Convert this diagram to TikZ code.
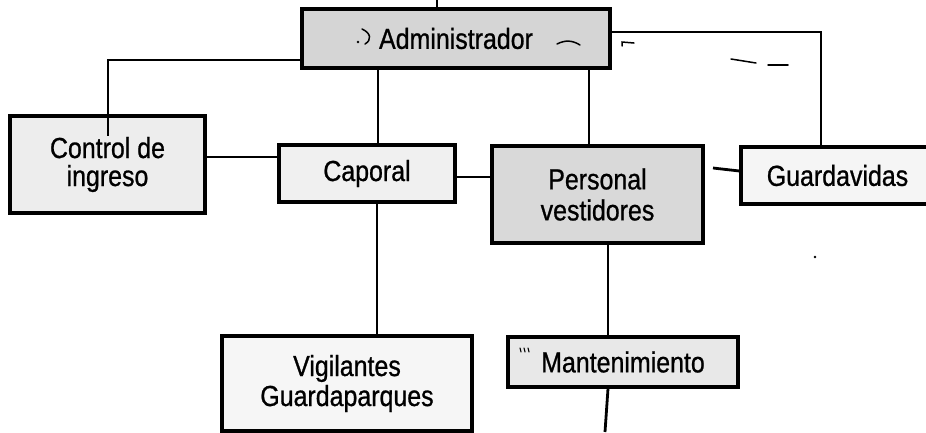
\documentclass[tikz,border=0pt]{standalone}
\usepackage{fontspec}
\setmainfont{Liberation Sans}[FakeStretch=0.86,FakeBold=0.8]
\begin{document}
\begin{tikzpicture}[x=1pt,y=-1pt,
  box/.style={draw=black, line width=3.3pt, rectangle, inner sep=0pt, align=center},
  conn/.style={line width=2.8pt},
  scrap/.style={line width=1.5pt, line cap=round}]
\clip (0,0) rectangle (926,432);
\fill[white] (0,0) rectangle (926,432);
% boxes
\node[box, fill=gray!33, minimum width=308pt, minimum height=59pt,
      font=\fontsize{29}{29}\selectfont] (admin) at (456,38.5) {Administrador};
\node[box, fill=gray!14, minimum width=195pt, minimum height=97pt,
      font=\fontsize{29}{28}\selectfont] (control) at (107.5,164.5) {Control de\\ingreso};
\node[box, fill=gray!12, minimum width=176pt, minimum height=57pt,
      font=\fontsize{29}{29}\selectfont] (caporal) at (367,173.5) {Caporal};
\node[box, fill=gray!30, minimum width=211pt, minimum height=97pt,
      font=\fontsize{29}{31}\selectfont] (personal) at (597.5,194.5) {Personal\\vestidores};
\node[box, fill=gray!8, minimum width=199pt, minimum height=57pt,
      font=\fontsize{29}{29}\selectfont] (guard) at (840.5,175.5) {Guardavidas\hspace{6pt}};
\node[box, fill=gray!7, minimum width=250pt, minimum height=95pt,
      font=\fontsize{29}{30}\selectfont] (vig) at (347,383.5) {Vigilantes\\Guardaparques};
\node[box, fill=gray!18, minimum width=230pt, minimum height=50pt,
      font=\fontsize{29}{29}\selectfont] (mant) at (623,362) {Mantenimiento};
% free ends
\coordinate (top) at (437,0);
\coordinate (pg) at (713,168);
\coordinate (bot) at (605,432);
% connectors
\draw[conn] (top) -- (top |- admin.north);
\draw[conn] (admin.west |- 0,60) -| (108,0 |- 0,136);
\draw[conn] (378,0 |- admin.south) -- (378,0 |- caporal.north);
\draw[conn] (589,0 |- admin.south) -- (589,0 |- personal.north);
\draw[conn] (admin.east |- 0,32) -| (821,0 |- guard.north);
\draw[conn] (control.east |- 0,157) -- (caporal.west |- 0,157);
\draw[conn] (caporal.east |- 0,177) -- (personal.west |- 0,177);
\draw[conn] (pg) -- (guard.west |- 0,171);
\draw[conn] (377,0 |- caporal.south) -- (377,0 |- vig.north);
\draw[conn] (608,0 |- personal.south) -- (608,0 |- mant.north);
\draw[conn] (608,0 |- mant.south) -- (bot);
% scan marks
\fill (358,42) circle (1.4);
\draw[scrap] (362,29) .. controls (371,33) and (372,40) .. (365,44);
\draw[scrap] (557,44) .. controls (565,40) and (572,40) .. (580,45);
\draw[scrap] (622,46) -- (622,42) -- (634,43);
\draw[scrap] (731,59) -- (756,63);
\draw[scrap] (768,65) -- (788,65);
\fill (815,257) circle (1.4);
\draw[scrap, line width=1.1pt] (520,348) -- (521,352) (524,348) -- (525,352) (528,348) -- (529,352);
\end{tikzpicture}
\end{document}
